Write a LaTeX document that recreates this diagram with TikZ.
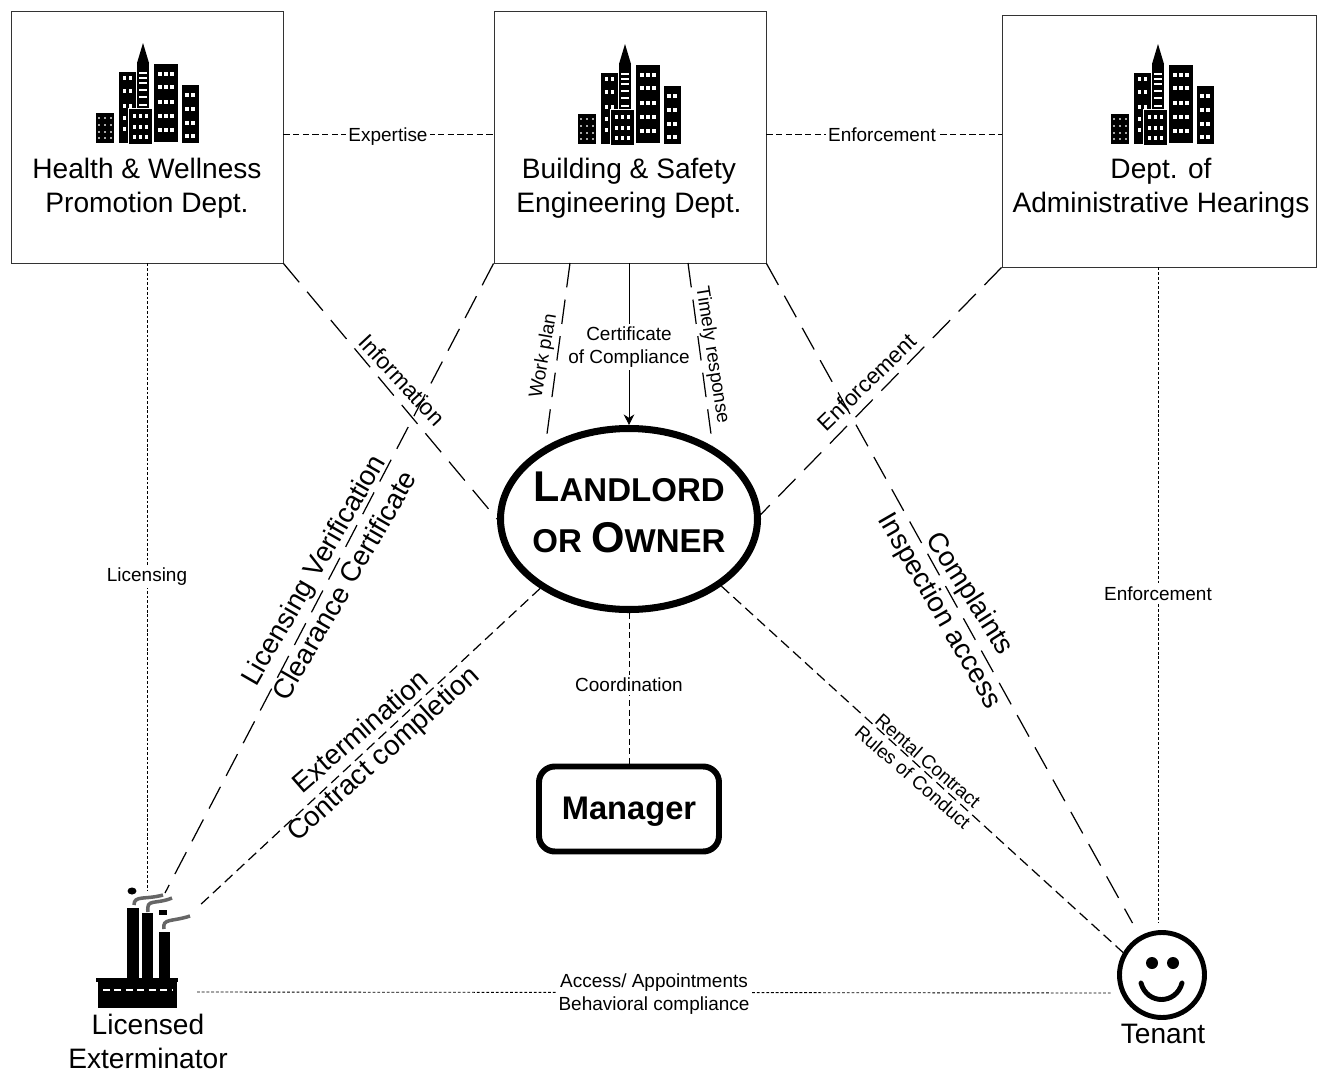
\documentclass[tikz,border=0pt]{standalone}
\usepackage{fontspec}
\setmainfont{Liberation Sans}
\usetikzlibrary{shapes.geometric,arrows.meta}
\def\u{0.02cm}
\tikzset{
    office/.style={draw=black!80,line width=0.5pt,minimum width=272*\u,minimum height=252*\u,inner sep=0pt},
    officetext/.style={align=center,font=\fontsize{16}{19.3}\selectfont,inner sep=0pt},
    small/.style={font=\fontsize{10.8}{13}\selectfont,inner sep=1.5pt,align=center},
    smallfill/.style={small,fill=white},
    big/.style={font=\fontsize{15.8}{19}\selectfont,inner sep=0pt},
    longdash/.style={line width=0.7pt,dash pattern=on 14pt off 7pt},
    middash/.style={line width=0.7pt,dash pattern=on 6pt off 3.2pt},
    shortdash/.style={line width=0.5pt,dash pattern=on 3.5pt off 2pt},
    dotline/.style={line width=0.5pt,dash pattern=on 1.6pt off 1.1pt},
    smoke/.style={black!60!white,line width=2pt}
}
\newcommand{\towers}[2]{
    \begin{scope}[shift={(#1,#2)}]
        \fill (0,70) rectangle (18,100);
        \fill (23,29) rectangle (40,100);
        \fill (41,20) rectangle (53,65);
        \fill (47,0) -- (53,20) -- (41,20) -- cycle;
        \fill (58,21) rectangle (82,99);
        \fill (86,42) rectangle (103,100);
        \foreach\y in {75.3,82,88.7,95.3}{\foreach\x in {3.3,9,14.7}{
            \fill[black!35!white] ({\x-1},{\y-1}) rectangle ({\x+1},{\y+1});
        }}
        \foreach\y in {35,48,63,75,86}{\foreach\x in {28,34}{
            \fill[white] ({\x-1.5},{\y-2}) rectangle ({\x+1.5},{\y+2});
        }}
        \foreach\y in {30,35,40,47,54,62}{
            \fill[white] (43,{\y-0.8}) rectangle (51,{\y+0.8});
        }
        \filldraw[draw=white,fill=black,line width=0.5pt] (32,65) rectangle (56,101);
        \foreach\y in {73,84,94}{\foreach\x in {38,44,50}{
            \fill[white] ({\x-1.5},{\y-2}) rectangle ({\x+1.5},{\y+2});
        }}
        \foreach\y in {31,44,59,73,87}{\foreach\x in {64,70,76}{
            \fill[white] ({\x-1.7},{\y-2}) rectangle ({\x+1.7},{\y+2});
        }}
        \foreach\y in {52,66,80,93}{\foreach\x in {91,97}{
            \fill[white] ({\x-1.7},{\y-2}) rectangle ({\x+1.7},{\y+2});
        }}
    \end{scope}
}
\newcommand{\capsize}[2]{{\fontsize{24.5}{24.5}\selectfont #1}{\fontsize{18.8}{18.8}\selectfont #2}}
\begin{document}
\begin{tikzpicture}[x=\u,y=-\u]
    \useasboundingbox (0,0) rectangle (1320,1072);
    % offices
    \node[office] (health) at (147,137) {};
    \node[office] (safety) at (630,137) {};
    \node[office,minimum width=314*\u] (hearings) at (1159,141) {};
    \towers{96}{43}
    \towers{578}{44}
    \towers{1111}{44}
    \node[officetext] (healthtext) at (147,188) {Health \& Wellness\\Promotion Dept.};
    \node[officetext] (safetytext) at (629,188) {Building \& Safety\\Engineering Dept.};
    \node[officetext] (hearingstext) at (1161,188) {Dept. of\\Administrative Hearings};
    % middle
    \node[ellipse,draw,line width=4pt,minimum width=257*\u,minimum height=181*\u,inner sep=0pt] (owner) at (629,519) {};
    \node[draw,line width=3.4pt,rounded corners=9pt,minimum width=180*\u,minimum height=85*\u] (manager) at (629,809) {};
    \node[circle,draw,line width=2.8pt,minimum size=85*\u,inner sep=0pt] (tenant) at (1162,975) {};
    % free ends
    \coordinate (workplan) at (570,263);
    \coordinate (timely) at (688,263);
    \coordinate (extnorth) at (147,890);
    \coordinate (extflue) at (165,893);
    \coordinate (extsmoke) at (198,907);
    \coordinate (extwall) at (197,992);
    \coordinate (tenwest) at (1112,993);
    % connectors
    \draw[shortdash] ([yshift=3*\u]health.east) -- ([yshift=3*\u]safety.west);
    \draw[shortdash] ([yshift=3*\u]safety.east) -- ([yshift=7*\u]hearings.west);
    \draw[longdash] (health.south east) -- (owner.180);
    \draw[longdash] (hearings.south west) -- (owner.2);
    \draw[longdash] (safety.south west) -- (extflue);
    \draw[longdash] (safety.south east) -- ([xshift=-7*\u,yshift=13*\u]tenant.120);
    \draw[longdash] (workplan) -- (owner.139);
    \draw[longdash] (timely) -- (owner.41);
    \draw[line width=0.5pt,-{Stealth[length=6pt,width=6pt]}] ([xshift=-1*\u]safety.south) -- (owner.north);
    \draw[dotline] (health.south) -- (extnorth);
    \draw[dotline] ([xshift=-1*\u]hearings.south) -- ([xshift=-4*\u,yshift=7*\u]tenant.north);
    \draw[middash] (owner.218) -- (extsmoke);
    \draw[middash] (owner.324) -- (tenant.150);
    \draw[shortdash] (owner.south) -- (manager.north);
    \draw[dotline] (extwall) -- (tenwest);
    % labels on white
    \node[smallfill] (expertise) at (388,137) {Expertise};
    \node[smallfill] (enforcetop) at (882,135) {Enforcement};
    \node[smallfill] (certificate) at (629,347) {Certificate\\of Compliance};
    \node[smallfill] (licensing) at (147,577) {Licensing};
    \node[smallfill] (enforceright) at (1158,594) {Enforcement};
    \node[smallfill] (coordination) at (629,685) {Coordination};
    \node[smallfill] (access) at (654,994) {Access/ Appointments\\Behavioral compliance};
    % labels on the slanted lines
    \node[small,font=\fontsize{13}{16}\selectfont,rotate=-47] (information) at (402,380) {Information};
    \node[small,font=\fontsize{12.8}{16}\selectfont,rotate=44] (enforcediag) at (867,382) {Enforcement};
    \node[small,rotate=80] (workplantext) at (544,356) {Work plan};
    \node[small,rotate=-81] (timelytext) at (712,355) {Timely response};
    \node[big,rotate=60] (verification) at (315,571) {Licensing Verification};
    \node[big,rotate=60] (clearance) at (344,585) {Clearance Certificate};
    \node[big,rotate=-57.5] (complaints) at (969,594) {Complaints};
    \node[big,rotate=-60] (inspection) at (939,611) {Inspection access};
    \node[big,rotate=41] (extermination) at (360,731) {Extermination};
    \node[big,rotate=42] (completion) at (384,755) {Contract completion};
    \node[small,rotate=-41] (rental) at (928,761) {Rental Contract};
    \node[small,rotate=-41] (conduct) at (913,777) {Rules of Conduct};
    % owner and manager text
    \node[font=\bfseries,inner sep=0pt] (ownerone) at (629,487) {\capsize{L}{ANDLORD}};
    \node[font=\bfseries,inner sep=0pt] (ownertwo) at (629,538) {{\fontsize{18.8}{18.8}\selectfont OR }\capsize{O}{WNER}};
    \node[font=\fontsize{18.6}{20}\selectfont\bfseries,inner sep=0pt] (managertext) at (629,812) {Manager};
    % factory
    \fill (96,978) rectangle (178,982);
    \fill (98,981) rectangle (177,1008);
    \fill (127,908) rectangle (139,980);
    \fill (142,913) rectangle (153,980);
    \fill (159,932) rectangle (170,980);
    \draw[white,line width=0.7pt,dash pattern=on 4pt off 2.5pt] (103,990) -- (172,990);
    \fill (132,891) ellipse (4.5 and 3.5);
    \fill (159,910) rectangle (167,915);
    \draw[smoke] (134,905) .. controls (134,895) and (145,900) .. (163,895);
    \draw[smoke] (148,912) .. controls (146,898) and (155,905) .. (172,898);
    \draw[smoke] (164,929) .. controls (162,918) and (172,922) .. (190,916);
    \node[officetext] (exttext) at (148,1041) {Licensed\\Exterminator};
    % tenant
    \fill (1152,963) circle (6);
    \fill (1173,963) circle (6);
    \draw[line width=2.8pt,line cap=round] (1141,983) .. controls (1147,1005) and (1176,1005) .. (1182,983);
    \node[officetext] (tenanttext) at (1163,1034) {Tenant};
\end{tikzpicture}
\end{document}
